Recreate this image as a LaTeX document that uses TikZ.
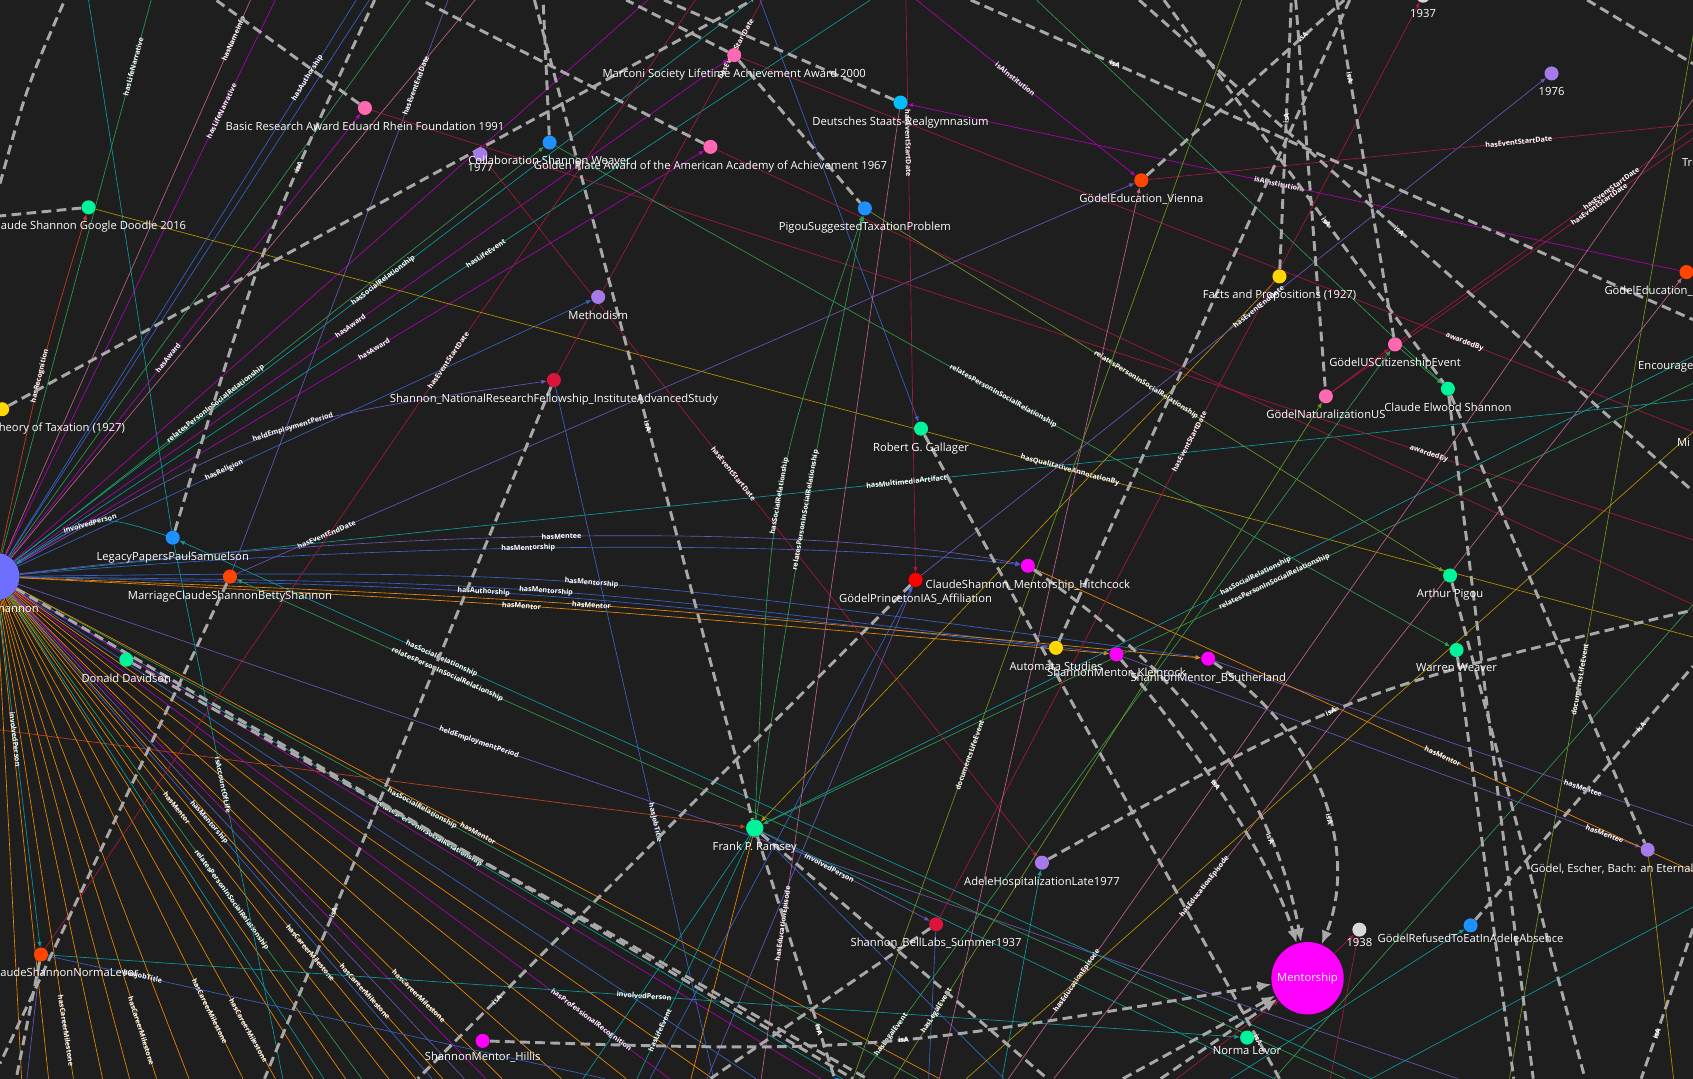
\documentclass[tikz,border=0pt]{standalone}
\usepackage{fontspec}
\setmainfont{Open Sans}
\usetikzlibrary{arrows.meta}
\definecolor{bgdark}{HTML}{1E1E1E}
\definecolor{isagray}{HTML}{A8A8A8}
\definecolor{nhub}{HTML}{6E6EFF}
\definecolor{npink}{HTML}{FF69B4}
\definecolor{nblue}{HTML}{1E90FF}
\definecolor{nsky}{HTML}{00BFFF}
\definecolor{nviolet}{HTML}{A57BEA}
\definecolor{ngreen}{HTML}{00F49A}
\definecolor{norange}{HTML}{FF4500}
\definecolor{ngold}{HTML}{FFD700}
\definecolor{ncrimson}{HTML}{DC143C}
\definecolor{nred}{HTML}{FF0000}
\definecolor{nmagenta}{HTML}{FF00FF}
\definecolor{ngray}{HTML}{D8D8D8}
\definecolor{lmag}{HTML}{B000B8}
\definecolor{lorange}{HTML}{F08A00}
\definecolor{lteal}{HTML}{0A9C9C}
\definecolor{lgreen}{HTML}{2E9B4E}
\definecolor{lblue}{HTML}{3A62C8}
\definecolor{lpurple}{HTML}{6A56B8}
\definecolor{lcrimson}{HTML}{A8183E}
\definecolor{lolive}{HTML}{B89400}
\definecolor{lpink}{HTML}{C06090}
\definecolor{lyg}{HTML}{6A9A20}
\definecolor{lred}{HTML}{C8401A}
\pgfdeclarelayer{bg}
\pgfdeclarelayer{edges}
\pgfsetlayers{bg,edges,main}
\tikzset{
  vert/.style={circle,inner sep=0pt,minimum size=13pt},
  lbl/.style={text=white,font=\fontsize{10.4}{12}\selectfont,inner sep=0pt},
  every label/.style={lbl},
  label distance=6pt,
  isa/.style={draw=isagray,line width=2.7pt,dash pattern=on 9pt off 5pt},
  rel/.style={line width=0.6pt},
  arr/.style={-{Latex[length=5pt,width=4pt]}},
  bigarr/.style={-{Latex[length=13pt,width=10pt]}},
  elbl/.style={text=white,font=\fontsize{6.6}{7}\selectfont\bfseries,sloped,inner sep=0.5pt}
}
\begin{document}
\begin{tikzpicture}[x=1pt,y=-1pt]
\useasboundingbox (0,0) rectangle (1568,999);
\begin{pgfonlayer}{bg}
\fill[bgdark] (0,0) rectangle (1568,999);
\end{pgfonlayer}

% nodes
\node[vert,fill=nhub,minimum size=44pt,label={[label distance=3pt]below:Claude Shannon}] (shannon) at (-4,534) {};
\node[vert,fill=ngreen,label=below:Claude Shannon Google Doodle 2016] (doodle) at (82,192) {};
\node[vert,fill=npink,label=below:Basic Research Award Eduard Rhein Foundation 1991] (rhein) at (338,100) {};
\node[vert,fill=nviolet,label={[label distance=1pt]below:1977}] (yr1977) at (445,143) {};
\node[vert,fill=nblue,label=below:Collaboration Shannon Weaver] (collab) at (509,132) {};
\node[vert,fill=npink,label=below:Marconi Society Lifetime Achievement Award 2000] (marconi) at (680,51) {};
\node[vert,fill=npink,label=below:Golden Plate Award of the American Academy of Achievement 1967] (goldplate) at (658,136) {};
\node[vert,fill=nsky,label=below:Deutsches Staats-Realgymnasium] (realgym) at (834,95) {};
\node[vert,fill=nblue,label=below:PigouSuggestedTaxationProblem] (pigoutax) at (801,193) {};
\node[vert,fill=nviolet,label=below:Methodism] (methodism) at (554,275) {};
\node[vert,fill=ncrimson,label=below:Shannon\_NationalResearchFellowship\_InstituteAdvancedStudy] (nrf) at (513,352) {};
\node[vert,fill=ngold,label=below:A Contribution to the Theory of Taxation (1927)] (taxation) at (2,379) {};
\node[vert,fill=norange,label=below:GödelEducation\_Vienna] (vienna) at (1057,167) {};
\node[vert,fill=ngold,label=below:Facts and Propositions (1927)] (facts) at (1185,256) {};
\node[vert,fill=ngray,label=below:1937] (yr1937) at (1318,-4) {};
\node[vert,fill=nviolet,label=below:1976] (yr1976) at (1437,68) {};
\node[vert,fill=norange,label=below:GödelEducation\_PrimarySchool] (edufr) at (1562,252) {};
\node[vert,fill=ngreen,label=below:Truth and Probability (1926)] (truth) at (1625,133) {};
\node[lbl,anchor=west] (encourage) at (1517,340) {Encourage};
\node[lbl,anchor=west] (mind) at (1553,410) {Mi};
\node[vert,fill=npink,label=below:GödelUSCitizenshipEvent] (citizenship) at (1292,319) {};
\node[vert,fill=npink,label=below:GödelNaturalizationUS] (naturalization) at (1228,367) {};
\node[vert,fill=ngreen,label=below:Claude Elwood Shannon] (ces) at (1341,360) {};
\node[vert,fill=ngreen,label=below:Robert G. Gallager] (gallager) at (853,397) {};
\node[vert,fill=nblue,label=below:LegacyPapersPaulSamuelson] (samuelson) at (160,498) {};
\node[vert,fill=norange,label=below:MarriageClaudeShannonBettyShannon] (marriage) at (213,534) {};
\node[vert,fill=ngreen,label=below:Donald Davidson] (davidson) at (117,611) {};
\node[vert,fill=nred,label=below:GödelPrincetonIAS\_Affiliation] (princeton) at (848,537) {};
\node[vert,fill=nmagenta,label=below:ClaudeShannon\_Mentorship\_Hitchcock] (hitchcock) at (952,524) {};
\node[vert,fill=ngreen,label=below:Arthur Pigou] (pigou) at (1343,533) {};
\node[vert,fill=ngreen,label=below:Warren Weaver] (weaver) at (1349,602) {};
\node[vert,fill=ngold,label=below:Automata Studies] (automata) at (978,600) {};
\node[vert,fill=nmagenta,label=below:ShannonMentor\_Kleinrock] (kleinrock) at (1034,606) {};
\node[vert,fill=nmagenta,label=below:ShannonMentor\_BSutherland] (sutherland) at (1119,610) {};
\node[vert,fill=ngreen,minimum size=16pt,label={[label distance=4pt]below:Frank P. Ramsey}] (ramsey) at (699,767) {};
\node[vert,fill=nviolet,label=below:AdeleHospitalizationLate1977] (adele) at (965,799) {};
\node[vert,fill=ncrimson,label=below:Shannon\_BellLabs\_Summer1937] (bell) at (867,856) {};
\node[vert,fill=nmagenta,minimum size=67pt,text=white,font=\fontsize{10.4}{12}\selectfont] (mentorship) at (1211,906) {Mentorship};
\node[vert,fill=ngray,label={[label distance=1pt]below:1938}] (yr1938) at (1259,861) {};
\node[vert,fill=nblue,label={[label distance=1pt]below:GödelRefusedToEatInAdeleAbsence}] (refused) at (1362,857) {};
\node[vert,fill=nviolet,label=below:{Gödel, Escher, Bach: an Eternal Golden Braid}] (geb) at (1526,787) {};
\node[vert,fill=norange,label=below:MarriageClaudeShannonNormaLevor] (marnorma) at (38,884) {};
\node[vert,fill=ngreen,label={[label distance=1pt]below:Norma Levor}] (norma) at (1155,961) {};
\node[vert,fill=nmagenta,label={[label distance=3pt]below:ShannonMentor\_Hillis}] (hillis) at (447,964) {};
\node[vert,fill=nblue] (bnode) at (775,1005) {};

% free ends of the connectors
\coordinate (t60) at (60,0); \coordinate (t82) at (82,0); \coordinate (t140) at (140,0);
\coordinate (t200) at (200,0); \coordinate (t232) at (232,0); \coordinate (t255) at (255,0);
\coordinate (t330) at (330,0); \coordinate (t342) at (342,0); \coordinate (t347) at (347,0);
\coordinate (t380) at (380,0); \coordinate (t390) at (390,0); \coordinate (t415) at (415,0);
\coordinate (t440) at (440,0); \coordinate (t495) at (495,0); \coordinate (t503) at (503,0);
\coordinate (t580) at (580,0); \coordinate (t600) at (600,0); \coordinate (t615) at (615,0);
\coordinate (t644) at (644,0); \coordinate (t697) at (697,0); \coordinate (t704) at (704,0);
\coordinate (t706) at (706,0); \coordinate (t806) at (806,0); \coordinate (t839) at (839,0);
\coordinate (t849) at (849,0); \coordinate (t899) at (899,0); \coordinate (t960) at (960,0);
\coordinate (t1055) at (1055,0); \coordinate (t1078) at (1078,0); \coordinate (t1150) at (1150,0);
\coordinate (t1196) at (1196,0); \coordinate (t1200) at (1200,0); \coordinate (t1238) at (1238,0);
\coordinate (t1245) at (1245,0); \coordinate (t1250) at (1250,0); \coordinate (t1470) at (1470,0);
\coordinate (t1574) at (1574,0);
\coordinate (l170) at (0,170); \coordinate (l200) at (0,200); \coordinate (l676) at (0,676);
\coordinate (l985) at (0,985);
\coordinate (r59) at (1568,59); \coordinate (r92) at (1568,92); \coordinate (r115) at (1568,115);
\coordinate (r120) at (1568,120); \coordinate (r128) at (1568,128); \coordinate (r296) at (1568,296);
\coordinate (r330) at (1568,330); \coordinate (r355) at (1568,355); \coordinate (r370) at (1568,370);
\coordinate (r400) at (1568,400); \coordinate (r455) at (1568,455); \coordinate (r500) at (1568,500);
\coordinate (r560) at (1568,560); \coordinate (r565) at (1568,565); \coordinate (r590) at (1568,590);
\coordinate (r617) at (1568,617); \coordinate (r765) at (1568,765); \coordinate (r807) at (1568,807);
\coordinate (r840) at (1568,840); \coordinate (r860) at (1568,860);
\coordinate (b15) at (15,999); \coordinate (b20) at (20,999); \coordinate (b25) at (25,999);
\coordinate (b45) at (45,999); \coordinate (b68) at (68,999); \coordinate (b95) at (95,999);
\coordinate (b120) at (120,999); \coordinate (b145) at (145,999); \coordinate (b175) at (175,999);
\coordinate (b225) at (225,999); \coordinate (b245) at (245,999); \coordinate (b255) at (255,999);
\coordinate (b262) at (262,999); \coordinate (b290) at (290,999); \coordinate (b300) at (300,999);
\coordinate (b320) at (320,999); \coordinate (b335) at (335,999); \coordinate (b360) at (360,999);
\coordinate (b385) at (385,999); \coordinate (b387) at (387,999); \coordinate (b400) at (400,999);
\coordinate (b410) at (410,999); \coordinate (b430) at (430,999); \coordinate (b450) at (450,999);
\coordinate (b465) at (465,999); \coordinate (b520) at (520,999); \coordinate (b540) at (540,999);
\coordinate (b560) at (560,999); \coordinate (b580) at (580,999); \coordinate (b590) at (590,999);
\coordinate (b602) at (602,999); \coordinate (b620) at (620,999); \coordinate (b640) at (640,999);
\coordinate (b655) at (655,999); \coordinate (b658) at (658,999); \coordinate (b660) at (660,999);
\coordinate (b661) at (661,999); \coordinate (b700) at (700,999); \coordinate (b705) at (705,999);
\coordinate (b760) at (760,999);
\coordinate (b780) at (780,999); \coordinate (b790) at (790,999); \coordinate (b796) at (796,999);
\coordinate (b803) at (803,999); \coordinate (b828) at (828,999); \coordinate (b850) at (850,999);
\coordinate (b860) at (860,999); \coordinate (b870) at (870,999); \coordinate (b895) at (895,999);
\coordinate (b928) at (928,999); \coordinate (b930) at (930,999); \coordinate (b934) at (934,999);
\coordinate (b970) at (970,999); \coordinate (b976) at (976,999); \coordinate (b1040) at (1040,999);
\coordinate (b1075) at (1075,999); \coordinate (b1090) at (1090,999); \coordinate (b1140) at (1140,999);
\coordinate (b1180) at (1180,999); \coordinate (b1185) at (1185,999); \coordinate (b1232) at (1232,999);
\coordinate (b1246) at (1246,999); \coordinate (b1270) at (1270,999); \coordinate (b1350) at (1350,999);
\coordinate (b1398) at (1398,999); \coordinate (b1402) at (1402,999); \coordinate (b1420) at (1420,999);
\coordinate (b1468) at (1468,999); \coordinate (b1520) at (1520,999); \coordinate (b1550) at (1550,999);

\begin{pgfonlayer}{edges}
% relations of Claude Shannon, upwards
\draw[rel,lred,arr] (shannon) .. controls (40,330) .. (doodle) node[elbl,pos=.45]{hasRecognition};
\draw[rel,lgreen] (shannon) -- (t140) node[elbl,pos=.88]{hasLifeNarrative};
\draw[rel,lmag] (shannon) -- (t255) node[elbl,pos=.8]{hasLifeNarrative};
\draw[rel,lpink] (shannon) -- (t232) node[elbl,pos=.93]{hasNameInfo};
\draw[rel,lteal] (t82) -- (samuelson);
\draw[rel,lblue] (shannon) -- (t330) node[elbl,pos=.86]{hasAuthorship};
\draw[rel,lblue] (shannon) -- (t342);
\draw[rel,lmag,arr] (shannon) -- (rhein) node[elbl,pos=.45]{hasAward};
\draw[rel,lgreen,arr] (shannon) -- (collab) node[elbl,pos=.38]{relatesPersonInSocialRelationship};
\draw[rel,lteal] (shannon.40) -- (t697) node[elbl,pos=.5]{hasSocialRelationship};
\draw[rel,lmag,arr] (shannon) -- (goldplate) node[elbl,pos=.52]{hasAward};
\draw[rel,lmag,arr] (shannon) -- (marconi) node[elbl,pos=.47]{hasAward};
\draw[rel,lteal] (shannon) -- (t806) node[elbl,pos=.55]{hasLifeEvent};
\draw[rel,lblue,arr] (shannon) -- (methodism) node[elbl,pos=.36]{hasReligion};
\draw[rel,lpurple,arr] (shannon) .. controls (250,390) .. (nrf) node[elbl,pos=.55]{heldEmploymentPeriod};
\draw[rel,lpink] (shannon) -- (t440);
\draw[rel,lmag] (shannon) -- (t600);
\draw[rel,lgreen] (shannon) -- (t380);
\draw[rel,lteal] (shannon) -- (r370) node[elbl,pos=.53]{hasMultimediaArtifact};
\draw[rel,lteal,arr] (samuelson) .. controls (90,475) .. (shannon) node[elbl,pos=.55]{involvedPerson};
\draw[rel,lpurple] (marriage) -- (t415) node[elbl,pos=.85]{hasEventEndDate};
\draw[rel,lpurple,arr] (marriage) -- (vienna) node[elbl,pos=.1]{hasEventEndDate};
% relations of Claude Shannon, to the right
\draw[rel,lpurple,arr] (shannon) .. controls (450,480) and (800,492) .. (hitchcock) node[elbl,pos=.43]{hasMentee};
\draw[rel,lblue,arr] (shannon) .. controls (450,495) and (800,505) .. (hitchcock) node[elbl,pos=.4]{hasMentorship};
\draw[rel,lblue,arr] (shannon) .. controls (500,540) .. (kleinrock) node[elbl,pos=.5]{hasMentorship};
\draw[rel,lblue,arr] (shannon) .. controls (520,528) .. (sutherland) node[elbl,pos=.52]{hasMentorship};
\draw[rel,lblue,arr] (shannon) .. controls (480,545) .. (automata) node[elbl,pos=.45]{hasAuthorship};
\draw[rel,lorange,arr] (shannon) .. controls (500,560) .. (kleinrock) node[elbl,pos=.47]{hasMentor};
\draw[rel,lorange,arr] (shannon) .. controls (520,555) .. (sutherland) node[elbl,pos=.52]{hasMentor};
\draw[rel,lpurple] (shannon) -- (b1350) node[elbl,pos=.32]{heldEmploymentPeriod};
\draw[rel,lpurple] (sutherland) -- (r765) node[elbl,pos=.77]{hasMentee};
\draw[rel,lpurple,arr] (kleinrock) -- (geb) node[elbl,pos=.93]{hasMentee};
\draw[rel,lorange] (hitchcock) -- (r807) node[elbl,pos=.62]{hasMentor};
\draw[rel,lgreen] (shannon) -- (b850) node[elbl,pos=.45]{hasSocialRelationship};
\draw[rel,lteal] (shannon) -- (b780) node[elbl,pos=.5]{relatesPersonInSocialRelationship};
\draw[rel,lorange] (shannon) -- (b870) node[elbl,pos=.5]{hasMentor};
\draw[rel,lred,arr] (l676) -- (ramsey);
% relations of Claude Shannon, downwards
\draw[rel,lorange] (shannon) -- (b20);
\draw[rel,lorange] (shannon) -- (b45);
\draw[rel,lorange] (shannon) -- (b68) node[elbl,pos=.9]{hasCareerMilestone};
\draw[rel,lorange] (shannon) -- (b95);
\draw[rel,lorange] (shannon) -- (b120);
\draw[rel,lorange] (shannon) -- (b145) node[elbl,pos=.9]{hasCareerMilestone};
\draw[rel,lorange] (shannon) -- (b175);
\draw[rel,lorange] (shannon) -- (b225) node[elbl,pos=.86]{hasCareerMilestone};
\draw[rel,lorange] (shannon) -- (b255) node[elbl,pos=.9]{hasCareerMilestone};
\draw[rel,lorange] (shannon) -- (b290);
\draw[rel,lorange] (shannon) -- (b320);
\draw[rel,lorange] (shannon) -- (b360) node[elbl,pos=.44]{hasMentor};
\draw[rel,lorange] (shannon) -- (b385) node[elbl,pos=.74]{hasCareerMilestone};
\draw[rel,lorange] (shannon) -- (b410) node[elbl,pos=.82]{hasCareerMilestone};
\draw[rel,lorange] (shannon) -- (b465) node[elbl,pos=.83]{hasCareerMilestone};
\draw[rel,lorange] (shannon) -- (b520);
\draw[rel,lorange] (shannon) -- (b580);
\draw[rel,lorange] (shannon) -- (b660);
\draw[rel,lmag] (shannon) -- (b450);
\draw[rel,lpurple] (shannon) -- (b430);
\draw[rel,lmag] (shannon) -- (b620) node[elbl,pos=.88]{hasProfessionalRecognition};
\draw[rel,lmag] (shannon) -- (b760);
\draw[rel,lteal] (shannon) -- (b300);
\draw[rel,lblue] (shannon) -- (b700);
\draw[rel,lblue] (shannon) -- (b400) node[elbl,pos=.47]{hasMentorship};
\draw[rel,lgreen] (shannon) -- (b335) node[elbl,pos=.63]{relatesPersonInSocialRelationship};
\draw[rel,lteal] (samuelson) -- (b262) node[elbl,pos=.45]{isAccountOfLife};
\draw[rel,lteal,arr] (shannon) -- (marnorma) node[elbl,pos=.4]{involvedPerson};
\draw[rel,lcrimson] (marnorma) -- (t644) node[elbl,pos=.62]{hasEventStartDate};
\draw[rel,lteal,arr] (marnorma) -- (norma) node[elbl,pos=.5]{involvedPerson};
\draw[rel,lblue] (marnorma) -- (b560) node[elbl,pos=.17]{hasJobTitle};
\draw[rel,lpurple] (marnorma) -- (b25);
% the other relations
\draw[rel,lolive] (doodle) -- (r590) node[elbl,pos=.61]{hasQualitativeAnnotationBy};
\draw[rel,lcrimson] (rhein) -- (r500) node[elbl,pos=.8]{awardedBy};
\draw[rel,lcrimson] (marconi) -- (r400) node[elbl,pos=.76]{awardedBy};
\draw[rel,lcrimson] (goldplate) -- (r560);
\draw[rel,lcrimson] (nrf) -- (t706) node[elbl,pos=.87]{hasEventStartDate};
\draw[rel,lcrimson,arr] (yr1977) -- (adele) node[elbl,pos=.45]{hasEventStartDate};
\draw[rel,lblue,arr] (t704) -- (gallager);
\draw[rel,lcrimson,arr] (t839) -- (princeton) node[elbl,pos=.25]{hasEventStartDate};
\draw[rel,lgreen,arr] (ramsey) .. controls (713,453) .. (pigoutax) node[elbl,pos=.5]{hasSocialRelationship};
\draw[rel,lgreen,arr] (ramsey) .. controls (745,470) .. (pigoutax) node[elbl,pos=.5]{relatesPersonInSocialRelationship};
\draw[rel,lgreen,arr] (collab) -- (weaver) node[elbl,pos=.5]{relatesPersonInSocialRelationship};
\draw[rel,lyg,arr] (pigoutax) -- (pigou) node[elbl,pos=.48]{relatesPersonInSocialRelationship};
\draw[rel,lteal,arr] (r330) -- (ramsey) node[elbl,pos=.47]{hasSocialRelationship};
\draw[rel,lgreen,arr] (r355) -- (ramsey) node[elbl,pos=.45]{relatesPersonInSocialRelationship};
\draw[rel,lpurple,arr] (ramsey) -- (bell) node[elbl,pos=.4]{involvedPerson};
\draw[rel,lteal] (ramsey) -- (b1180);
\draw[rel,lorange] (ramsey) -- (b640);
\draw[rel,lteal] (ramsey) -- (b590) node[elbl,pos=.8]{hasLifeEvent};
\draw[rel,lteal] (ramsey) -- (b540);
\draw[rel,lblue] (ramsey) -- (b930);
\draw[rel,lolive,arr] (facts) -- (ramsey);
\draw[rel,lcrimson,arr] (bell) -- (yr1937) node[elbl,pos=.52]{hasEventStartDate};
\draw[rel,lblue] (bell) -- (b860);
\draw[rel,lpurple,arr] (princeton) -- (yr1976) node[elbl,pos=.54]{hasEventEndDate};
\draw[rel,lblue,arr] (b602) -- (princeton);
\draw[rel,lpurple] (b655) -- (princeton);
\draw[rel,lmag,arr] (edufr) -- (realgym) node[elbl,pos=.52]{isAInstitution};
\draw[rel,lmag,arr] (t849) -- (vienna) node[elbl,pos=.45]{isAInstitution};
\draw[rel,lcrimson] (vienna) -- (r115) node[elbl,pos=.68]{hasEventStartDate};
\draw[rel,lpink,arr] (b870) -- (vienna);
\draw[rel,lcrimson] (citizenship) -- (r120) node[elbl,pos=.72]{hasEventStartDate};
\draw[rel,lcrimson] (naturalization) -- (r128) node[elbl,pos=.74]{hasEventStartDate};
\draw[rel,lcrimson,arr] (naturalization) -- (citizenship);
\draw[rel,lgreen,arr] (citizenship) -- (ces);
\draw[rel,lgreen,arr] (t960) -- (ces);
\draw[rel,lgreen,arr] (b796) -- (citizenship) node[elbl,pos=.06]{hasLegalEvent};
\draw[rel,lyg,arr] (b828) -- (naturalization) node[elbl,pos=.1]{hasLegalEvent};
\draw[rel,lteal,arr] (b1140) -- (refused);
\draw[rel,lteal,arr] (b928) -- (adele);
\draw[rel,lcrimson,arr] (mentorship) -- (yr1938);
\draw[rel,lcrimson,arr] (b1232) -- (yr1938);
\draw[rel,lcrimson,arr] (b1090) -- (mentorship);
\draw[rel,lolive] (geb) -- (b1550);
\draw[rel,lyg] (b790) -- (t1150) node[elbl,pos=.3]{documentsLifeEvent};
\draw[rel,lyg] (b1398) -- (t1574) node[elbl,pos=.37]{documentsLifeEvent};
\draw[rel,lpink,arr] (b976) -- (edufr) node[elbl,pos=.24]{hasEducationEpisode};
\draw[rel,lpink] (b934) -- (r92) node[elbl,pos=.1]{hasEducationEpisode};
\draw[rel,lpink] (b705) -- (realgym) node[elbl,pos=.16]{hasEducationEpisode};
\draw[rel,lblue] (nrf) -- (b661) node[elbl,pos=.63]{hasJobTitle};
\draw[rel,lteal] (b1270) -- (r840);
\draw[rel,lolive] (b895) -- (r400);
\draw[rel,lgreen] (b1180) -- (r560);
\draw[rel,lteal,arr] (b1270) -- (samuelson) node[elbl,pos=.78]{hasSocialRelationship};
\draw[rel,lgreen,arr] (b1246) -- (marriage) node[elbl,pos=.81]{relatesPersonInSocialRelationship};

% isA connectors
\draw[isa] (l170) .. controls (25,80) .. (t60);
\draw[isa] (doodle) -- (l200);
\draw[isa] (taxation) -- (t697);
\draw[isa] (rhein) -- (t200);
\draw[isa] (samuelson) .. controls (243,224) .. (t347) node[elbl,pos=.7]{isA};
\draw[isa] (goldplate) -- (t390);
\draw[isa] (marconi) -- (t580);
\draw[isa] (marconi) -- (pigoutax);
\draw[isa] (realgym) -- (t615);
\draw[isa] (collab) -- (t503);
\draw[isa] (t495) -- (ramsey) node[elbl,pos=.52]{isA};
\draw[isa] (ramsey) -- (bnode) node[elbl,pos=.8]{isA};
\draw[isa] (nrf) -- (b245) node[elbl,pos=.76]{isA};
\draw[isa] (marriage) -- (l985);
\draw[isa] (marnorma) -- (b15);
\draw[isa] (shannon) -- (b790);
\draw[isa] (davidson) -- (b803);
\draw[isa] (princeton) -- (b387) node[elbl,pos=.84]{isA};
\draw[isa] (gallager) -- (b1185) node[elbl,pos=.94]{isA};
\draw[isa,bigarr] (hitchcock) .. controls (1120,640) and (1185,760) .. (mentorship) node[elbl,pos=.72]{isA};
\draw[isa,bigarr] (kleinrock) .. controls (1105,690) and (1175,790) .. (mentorship) node[elbl,pos=.45]{isA};
\draw[isa,bigarr] (sutherland) .. controls (1235,690) and (1255,800) .. (mentorship) node[elbl,pos=.55]{isA};
\draw[isa,bigarr] (hillis) .. controls (800,975) .. (mentorship) node[elbl,pos=.56]{isA};
\draw[isa,bigarr] (b1040) -- (mentorship);
\draw[isa,bigarr] (b1075) -- (mentorship);
\draw[isa] (vienna) -- (t1245) node[elbl,pos=.79]{isA};
\draw[isa] (facts) -- (t1196) node[elbl,pos=.56]{isA};
\draw[isa] (t1200) -- (naturalization);
\draw[isa] (t1250) -- (automata);
\draw[isa] (t1238) -- (citizenship) node[elbl,pos=.23]{isA};
\draw[isa] (t1078) -- (ces) node[elbl,pos=.58]{isA};
\draw[isa] (t899) -- (r296) node[elbl,pos=.2]{isA};
\draw[isa] (t1055) -- (r455) node[elbl,pos=.47]{isA};
\draw[isa] (t1470) -- (r59);
\draw[isa] (ces) -- (b1420);
\draw[isa] (ces) -- (geb);
\draw[isa] (pigou) -- (b1468);
\draw[isa] (weaver) -- (b1402);
\draw[isa] (adele) .. controls (1250,640) .. (r565) node[elbl,pos=.45]{isA};
\draw[isa] (refused) -- (r617) node[elbl,pos=.76]{isA};
\draw[isa] (r860) -- (b1520) node[elbl,pos=.7]{isA};
\draw[isa] (ramsey) -- (b970);
\draw[isa] (bell) -- (b658);
\end{pgfonlayer}
\end{tikzpicture}
\end{document}
